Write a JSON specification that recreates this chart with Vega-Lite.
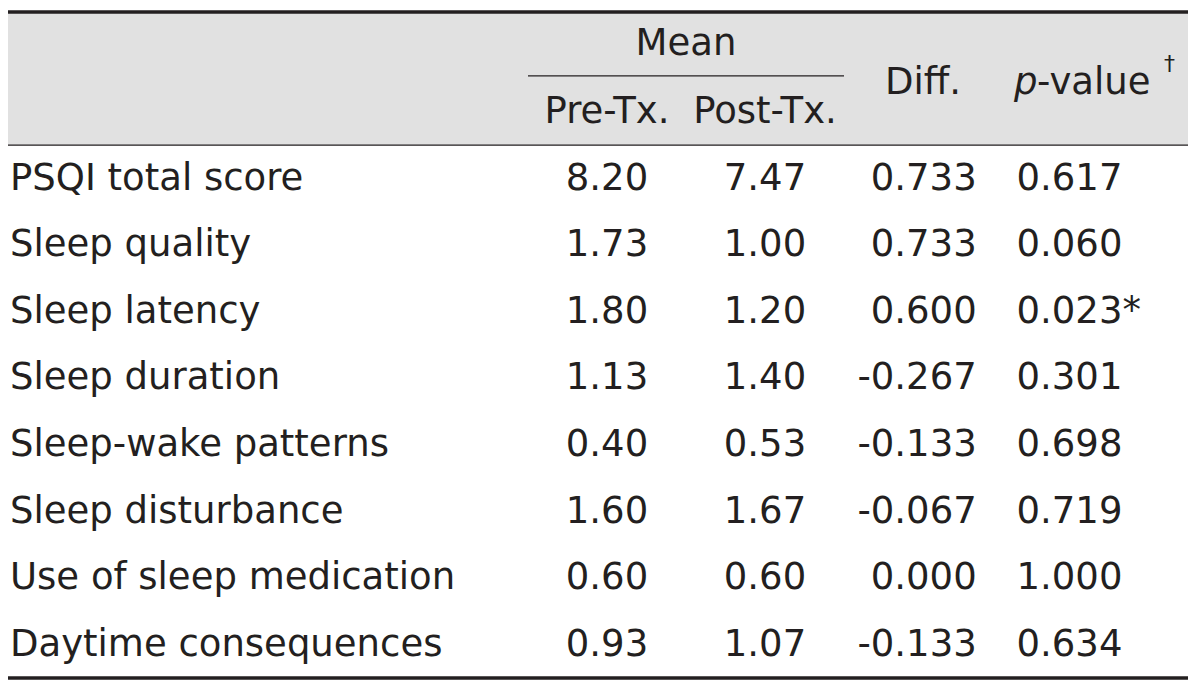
{
  "$schema": "https://vega.github.io/schema/vega-lite/v6.json",
  "padding": {"left": 6, "top": 10, "right": 0, "bottom": 0},
  "spacing": 0,
  "bounds": "flush",
  "background": "white",
  "config": {
    "view": {"stroke": null},
    "text": {"font": "DejaVu Sans", "fontSize": 37, "color": "#231f20", "baseline": "middle"},
    "rule": {"color": "#231f20"},
    "rect": {"color": "#e1e1e1"}
  },
  "resolve": {"scale": {"x": "independent", "y": "independent"}},
  "datasets": {
    "hdr": [{"row": "h1"}, {"row": "h2"}],
    "one": [{"k": 1}],
    "body": [
      {"row": "r1", "item": "PSQI total score", "pre": "8.20", "post": "7.47", "diff": "0.733", "p": "0.617"},
      {"row": "r2", "item": "Sleep quality", "pre": "1.73", "post": "1.00", "diff": "0.733", "p": "0.060"},
      {"row": "r3", "item": "Sleep latency", "pre": "1.80", "post": "1.20", "diff": "0.600", "p": "0.023*"},
      {"row": "r4", "item": "Sleep duration", "pre": "1.13", "post": "1.40", "diff": "-0.267", "p": "0.301"},
      {"row": "r5", "item": "Sleep-wake patterns", "pre": "0.40", "post": "0.53", "diff": "-0.133", "p": "0.698"},
      {"row": "r6", "item": "Sleep disturbance", "pre": "1.60", "post": "1.67", "diff": "-0.067", "p": "0.719"},
      {"row": "r7", "item": "Use of sleep medication", "pre": "0.60", "post": "0.60", "diff": "0.000", "p": "1.000"},
      {"row": "r8", "item": "Daytime consequences", "pre": "0.93", "post": "1.07", "diff": "-0.133", "p": "0.634"}
    ]
  },
  "hconcat": [
    {
      "width": 520, "height": 666,
      "layer": [
        {"data": {"name": "hdr"}, "mark": {"type": "rect"},
         "encoding": {"y": {"field": "row", "type": "nominal", "axis": null, "scale": {"type": "band", "domain": ["h1","h2","r1","r2","r3","r4","r5","r6","r7","r8"], "paddingInner": 0, "paddingOuter": 0}}}},
        {"data": {"name": "one"}, "mark": {"type": "rule", "strokeWidth": 2, "color": "#e1e1e1"}, "encoding": {"y": {"datum": "h1", "type": "nominal", "bandPosition": 1}}},
        {"data": {"name": "one"}, "mark": {"type": "rule", "strokeWidth": 3.5}, "encoding": {"y": {"datum": "h1", "type": "nominal", "bandPosition": 0}}},
        {"data": {"name": "one"}, "mark": {"type": "rule", "strokeWidth": 1.2}, "encoding": {"y": {"datum": "h2", "type": "nominal", "bandPosition": 1}}},
        {"data": {"name": "one"}, "mark": {"type": "rule", "strokeWidth": 3.5}, "encoding": {"y": {"datum": "r8", "type": "nominal", "bandPosition": 1}}},
        {"data": {"name": "body"}, "mark": {"type": "text", "align": "left", "dx": 2},
         "encoding": {
           "y": {"field": "row", "type": "nominal"},
           "x": {"datum": "c", "type": "nominal", "bandPosition": 0, "axis": null, "scale": {"type": "band", "paddingInner": 0, "paddingOuter": 0}},
           "text": {"field": "item"}}}
      ]
    },
    {
      "width": 158, "height": 666,
      "layer": [
        {"data": {"name": "hdr"}, "mark": {"type": "rect"},
         "encoding": {"y": {"field": "row", "type": "nominal", "axis": null, "scale": {"type": "band", "domain": ["h1","h2","r1","r2","r3","r4","r5","r6","r7","r8"], "paddingInner": 0, "paddingOuter": 0}}}},
        {"data": {"name": "one"}, "mark": {"type": "rule", "strokeWidth": 2, "color": "#e1e1e1"}, "encoding": {"y": {"datum": "h1", "type": "nominal", "bandPosition": 1}}},
        {"data": {"name": "one"}, "mark": {"type": "rule", "strokeWidth": 3.5}, "encoding": {"y": {"datum": "h1", "type": "nominal", "bandPosition": 0}}},
        {"data": {"name": "one"}, "mark": {"type": "rule", "strokeWidth": 1.2}, "encoding": {"y": {"datum": "h1", "type": "nominal", "bandPosition": 0.96}}},
        {"data": {"name": "one"}, "mark": {"type": "rule", "strokeWidth": 1.2}, "encoding": {"y": {"datum": "h2", "type": "nominal", "bandPosition": 1}}},
        {"data": {"name": "one"}, "mark": {"type": "rule", "strokeWidth": 3.5}, "encoding": {"y": {"datum": "r8", "type": "nominal", "bandPosition": 1}}},
        {"data": {"name": "one"}, "mark": {"type": "text", "text": "Pre-Tx."},
         "encoding": {"y": {"datum": "h2", "type": "nominal"},
           "x": {"datum": "c", "type": "nominal", "bandPosition": 0.5, "axis": null, "scale": {"type": "band", "paddingInner": 0, "paddingOuter": 0}}}},
        {"data": {"name": "body"}, "mark": {"type": "text", "align": "center"},
         "encoding": {
           "y": {"field": "row", "type": "nominal"},
           "x": {"datum": "c", "type": "nominal", "bandPosition": 0.5},
           "text": {"field": "pre"}}}
      ]
    },
    {
      "width": 158, "height": 666,
      "layer": [
        {"data": {"name": "hdr"}, "mark": {"type": "rect"},
         "encoding": {"y": {"field": "row", "type": "nominal", "axis": null, "scale": {"type": "band", "domain": ["h1","h2","r1","r2","r3","r4","r5","r6","r7","r8"], "paddingInner": 0, "paddingOuter": 0}}}},
        {"data": {"name": "one"}, "mark": {"type": "rule", "strokeWidth": 2, "color": "#e1e1e1"}, "encoding": {"y": {"datum": "h1", "type": "nominal", "bandPosition": 1}}},
        {"data": {"name": "one"}, "mark": {"type": "rule", "strokeWidth": 3.5}, "encoding": {"y": {"datum": "h1", "type": "nominal", "bandPosition": 0}}},
        {"data": {"name": "one"}, "mark": {"type": "rule", "strokeWidth": 1.2}, "encoding": {"y": {"datum": "h1", "type": "nominal", "bandPosition": 0.96}}},
        {"data": {"name": "one"}, "mark": {"type": "rule", "strokeWidth": 1.2}, "encoding": {"y": {"datum": "h2", "type": "nominal", "bandPosition": 1}}},
        {"data": {"name": "one"}, "mark": {"type": "rule", "strokeWidth": 3.5}, "encoding": {"y": {"datum": "r8", "type": "nominal", "bandPosition": 1}}},
        {"data": {"name": "one"}, "mark": {"type": "text", "text": "Mean", "align": "center"},
         "encoding": {"y": {"datum": "h1", "type": "nominal", "bandPosition": 0.48},
           "x": {"datum": "c", "type": "nominal", "bandPosition": 0, "axis": null, "scale": {"type": "band", "paddingInner": 0, "paddingOuter": 0}}}},
        {"data": {"name": "one"}, "mark": {"type": "text", "text": "Post-Tx."},
         "encoding": {"y": {"datum": "h2", "type": "nominal"},
           "x": {"datum": "c", "type": "nominal", "bandPosition": 0.5}}},
        {"data": {"name": "body"}, "mark": {"type": "text", "align": "center"},
         "encoding": {
           "y": {"field": "row", "type": "nominal"},
           "x": {"datum": "c", "type": "nominal", "bandPosition": 0.5},
           "text": {"field": "post"}}}
      ]
    },
    {
      "width": 158, "height": 666,
      "layer": [
        {"data": {"name": "hdr"}, "mark": {"type": "rect"},
         "encoding": {"y": {"field": "row", "type": "nominal", "axis": null, "scale": {"type": "band", "domain": ["h1","h2","r1","r2","r3","r4","r5","r6","r7","r8"], "paddingInner": 0, "paddingOuter": 0}}}},
        {"data": {"name": "one"}, "mark": {"type": "rule", "strokeWidth": 2, "color": "#e1e1e1"}, "encoding": {"y": {"datum": "h1", "type": "nominal", "bandPosition": 1}}},
        {"data": {"name": "one"}, "mark": {"type": "rule", "strokeWidth": 3.5}, "encoding": {"y": {"datum": "h1", "type": "nominal", "bandPosition": 0}}},
        {"data": {"name": "one"}, "mark": {"type": "rule", "strokeWidth": 1.2}, "encoding": {"y": {"datum": "h2", "type": "nominal", "bandPosition": 1}}},
        {"data": {"name": "one"}, "mark": {"type": "rule", "strokeWidth": 3.5}, "encoding": {"y": {"datum": "r8", "type": "nominal", "bandPosition": 1}}},
        {"data": {"name": "one"}, "mark": {"type": "text", "text": "Diff.", "align": "center", "dy": 4},
         "encoding": {"y": {"datum": "h1", "type": "nominal", "bandPosition": 1},
           "x": {"datum": "c", "type": "nominal", "bandPosition": 0.5, "axis": null, "scale": {"type": "band", "paddingInner": 0, "paddingOuter": 0}}}},
        {"data": {"name": "body"}, "mark": {"type": "text", "align": "right"},
         "encoding": {
           "y": {"field": "row", "type": "nominal"},
           "x": {"datum": "c", "type": "nominal", "bandPosition": 0.84},
           "text": {"field": "diff"}}}
      ]
    },
    {
      "width": 186, "height": 666,
      "layer": [
        {"data": {"name": "hdr"}, "mark": {"type": "rect"},
         "encoding": {"y": {"field": "row", "type": "nominal", "axis": null, "scale": {"type": "band", "domain": ["h1","h2","r1","r2","r3","r4","r5","r6","r7","r8"], "paddingInner": 0, "paddingOuter": 0}}}},
        {"data": {"name": "one"}, "mark": {"type": "rule", "strokeWidth": 2, "color": "#e1e1e1"}, "encoding": {"y": {"datum": "h1", "type": "nominal", "bandPosition": 1}}},
        {"data": {"name": "one"}, "mark": {"type": "rule", "strokeWidth": 3.5}, "encoding": {"y": {"datum": "h1", "type": "nominal", "bandPosition": 0}}},
        {"data": {"name": "one"}, "mark": {"type": "rule", "strokeWidth": 1.2}, "encoding": {"y": {"datum": "h2", "type": "nominal", "bandPosition": 1}}},
        {"data": {"name": "one"}, "mark": {"type": "rule", "strokeWidth": 3.5}, "encoding": {"y": {"datum": "r8", "type": "nominal", "bandPosition": 1}}},
        {"data": {"name": "one"}, "mark": {"type": "text", "text": "p", "align": "left", "fontStyle": "italic", "dy": 4},
         "encoding": {"y": {"datum": "h1", "type": "nominal", "bandPosition": 1},
           "x": {"datum": "c", "type": "nominal", "bandPosition": 0.065, "axis": null, "scale": {"type": "band", "paddingInner": 0, "paddingOuter": 0}}}},
        {"data": {"name": "one"}, "mark": {"type": "text", "text": "-value", "align": "left", "dx": 23, "dy": 4},
         "encoding": {"y": {"datum": "h1", "type": "nominal", "bandPosition": 1},
           "x": {"datum": "c", "type": "nominal", "bandPosition": 0.065}}},
        {"data": {"name": "one"}, "mark": {"type": "text", "text": "†", "align": "left", "fontSize": 22, "dx": 150, "dy": -15},
         "encoding": {"y": {"datum": "h1", "type": "nominal", "bandPosition": 1},
           "x": {"datum": "c", "type": "nominal", "bandPosition": 0.065}}},
        {"data": {"name": "body"}, "mark": {"type": "text", "align": "left"},
         "encoding": {
           "y": {"field": "row", "type": "nominal"},
           "x": {"datum": "c", "type": "nominal", "bandPosition": 0.078},
           "text": {"field": "p"}}}
      ]
    }
  ]
}
